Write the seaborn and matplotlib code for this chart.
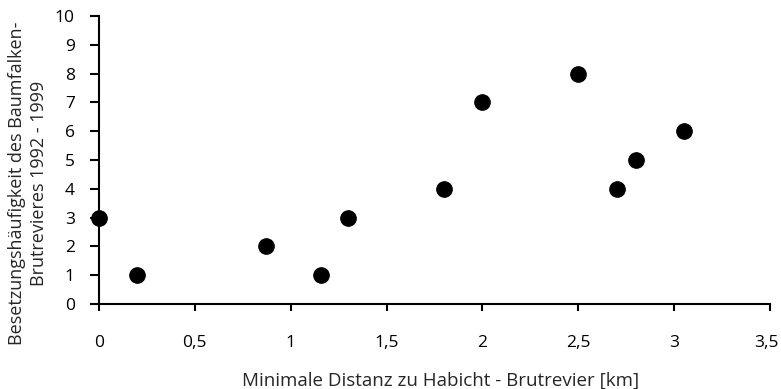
import matplotlib
matplotlib.use("Agg")
import matplotlib.pyplot as plt
import matplotlib.transforms as mtransforms
import seaborn as sns
import pandas as pd

# Minimale Distanz zu Habicht-Brutrevier [km] vs. Besetzungshaeufigkeit
distanz_km = [0.0, 0.2, 0.87, 1.16, 1.3, 1.8, 2.0, 2.5, 2.7, 2.8, 3.05]
besetzung = [3, 1, 2, 1, 3, 4, 7, 8, 4, 5, 6]

x_ticks = [0, 0.5, 1, 1.5, 2, 2.5, 3, 3.5]
x_tick_labels = ["0", "0,5", "1", "1,5", "2", "2,5", "3", "3,5"]
y_ticks = list(range(0, 11))

df = pd.DataFrame({"distanz": distanz_km, "besetzung": besetzung})

sns.set_style("ticks")
plt.rcParams["font.family"] = ["Open Sans", "DejaVu Sans"]

W, H = 781, 389
fig = plt.figure(figsize=(W / 100, H / 100), dpi=100)
ax = fig.add_axes([99 / W, 1 - 304 / H, (770 - 99) / W, (304 - 16) / H])

sns.scatterplot(data=df, x="distanz", y="besetzung", ax=ax,
                color="black", s=125, edgecolor="black", linewidth=0.8, zorder=3,
                clip_on=False)

ax.set_xlim(0, 3.5)
ax.set_ylim(0, 10)
ax.set_xticks(x_ticks)
ax.set_xticklabels(x_tick_labels)
ax.set_yticks(y_ticks)

sns.despine(ax=ax)
for side in ["left", "bottom"]:
    ax.spines[side].set_linewidth(1.5)
    ax.spines[side].set_color("black")

ax.tick_params(axis="x", direction="out", length=5, width=1.5, pad=17,
               labelsize=12.5, colors="black")
ax.tick_params(axis="y", direction="out", length=6.5, width=1.5, pad=11,
               labelsize=12.5, colors="black")
# nudge the last tick label a little left so it stays on the canvas
last = ax.get_xticklabels()[-1]
last.set_transform(last.get_transform() +
                   mtransforms.ScaledTranslation(-4 / 100, 0, fig.dpi_scale_trans))

ax.set_xlabel("Minimale Distanz zu Habicht - Brutrevier [km]", fontsize=13.5)
ax.xaxis.set_label_coords((441 - 99) / 671, (304 - 372) / 288)
ax.set_ylabel("Besetzungshäufigkeit des Baumfalken-\nBrutrevieres 1992 - 1999",
              fontsize=13, linespacing=1.3)
ax.yaxis.set_label_coords((48 - 99) / 671, (304 - 183) / 288)

fig.savefig("out.png", dpi=100)
